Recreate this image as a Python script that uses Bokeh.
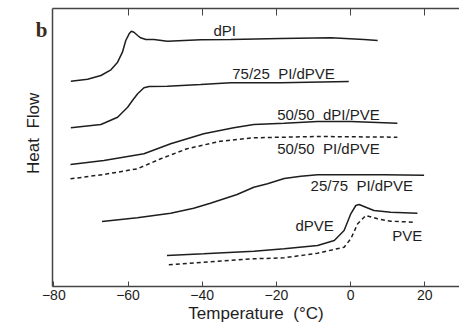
from bokeh.plotting import figure
from bokeh.models import Range1d, LinearAxis, FixedTicker, ColumnDataSource
from bokeh.embed import file_html
from bokeh.resources import INLINE
from bokeh.core.properties import value

# Temperature (°C) / heat flow (arbitrary, offset) traces
dpi_t = [-75.4, -70.9, -67.3, -64.6, -62.8, -61.5, -60.6, -59.7, -59.1, -58.4, -57.4, -56.6, -55.2, -53.0, -49.4, -44.9, -40.4, -32.3, -18.8, -5.3, 3.6, 7.3]
dpi_h = [205.3, 207.3, 211, 216.7, 224.3, 234.3, 246, 252.7, 255.3, 254.3, 251, 248.7, 247, 247, 245.3, 246, 246.7, 247, 248, 248.7, 247, 246]

b75_t = [-75.4, -67.3, -62.8, -60.1, -58.8, -57.4, -55.7, -54.3, -49.4, -40.4, -32.3, -18.8, -0.5]
b75_h = [158.7, 162, 169.3, 179.3, 186, 192.7, 198.7, 200, 200.3, 202, 203.7, 203.7, 205]

d50_t = [-75.5, -66.5, -55.7, -48.5, -39.6, -31.5, -26.1, -17.9, -8.9, 0.0, 12.6]
d50_h = [122, 126, 132.7, 142.7, 152.7, 158.7, 162, 163.3, 165, 165, 163.3]

p50_t = [-75.5, -66.5, -57.5, -51.2, -44.1, -35.1, -26.1, -8.9, 12.6]
p50_h = [107.7, 112, 117.7, 127.7, 137.7, 145.3, 148.7, 150, 149.3]

b25_t = [-67.0, -57.5, -48.5, -42.3, -37.8, -30.6, -26.1, -22.4, -17.9, -13.4, -8.9, 0.0, 9.0, 19.8]
b25_h = [65, 68.7, 73.3, 78.3, 83.3, 92, 99.3, 102.7, 108, 110.3, 111.7, 111.7, 111.7, 111.3]

dpve_t = [-49.5, -39.6, -26.1, -17.9, -8.9, -4.4, -1.75, 0.05, 1.4, 2.3, 4.1, 6.3, 10.8, 18.0]
dpve_h = [31, 32.7, 35.3, 37.7, 41, 46, 56, 72.7, 81, 82, 79.3, 76, 74.3, 73.3]

pve_t = [-49.0, -39.6, -26.1, -17.9, -8.9, -1.75, 0.05, 1.9, 4.1, 7.25, 10.8, 17.1]
pve_h = [21.7, 24.3, 27.7, 28.7, 33.3, 39.3, 47.7, 62.7, 71, 67.7, 65.3, 64.3]

SP = "\u00a0\u00a0"
label_text = ["dPI", "75/25" + SP + "PI/dPVE", "50/50" + SP + "dPI/PVE", "50/50" + SP + "PI/dPVE",
              "25/75" + SP + "PI/dPVE", "dPVE", "PVE"]
label_t = [-36.95, -31.9, -19.8, -19.8, -10.8, -14.85, 11.2]
label_h = [256, 213.5, 172.2, 138.5, 100.7, 60.7, 50.7]

x_ticks = [-80, -60, -40, -20, 0, 20]
panel_letter = "b"
panel_letter_h = 257

FONT = "Liberation Sans"
INK = "#1e1e1e"

p = figure(width=459, height=327, output_backend="svg", toolbar_location=None,
           x_range=Range1d(-80.35, 29.35), y_range=Range1d(0, 278),
           x_axis_location=None, y_axis_location=None,
           min_border_left=52, min_border_right=0, min_border_top=8, min_border_bottom=41)
p.grid.visible = False
p.outline_line_color = None
p.background_fill_color = "white"
p.border_fill_color = "white"

solid = [(dpi_t, dpi_h), (b75_t, b75_h), (d50_t, d50_h), (b25_t, b25_h), (dpve_t, dpve_h)]
for t, h in solid:
    p.line(t, h, line_color=INK, line_width=1.5)
for t, h in [(p50_t, p50_h), (pve_t, pve_h)]:
    p.line(t, h, line_color=INK, line_width=1.5, line_dash="4 3")

src = ColumnDataSource(dict(x=label_t, y=label_h, text=label_text))
p.text(x="x", y="y", text="text", source=src, text_font=value(FONT), text_font_size="15px",
       text_align="left", text_baseline="middle", text_color=INK)

axis_color = "#444444"

bottom = LinearAxis(ticker=FixedTicker(ticks=x_ticks), axis_label="Temperature" + SP + "(°C)")
bottom.major_tick_in = 5
bottom.major_tick_out = 0
bottom.minor_tick_line_color = None
bottom.axis_line_color = axis_color
bottom.major_tick_line_color = axis_color
bottom.axis_line_width = 1.5
bottom.major_label_text_font = FONT
bottom.major_label_text_font_size = "14px"
bottom.major_label_text_color = INK
bottom.major_label_standoff = 3
bottom.axis_label_text_font = FONT
bottom.axis_label_text_font_size = "17px"
bottom.axis_label_text_font_style = "normal"
bottom.axis_label_text_color = INK
bottom.axis_label_standoff = 1
p.add_layout(bottom, "below")

top = LinearAxis(ticker=FixedTicker(ticks=x_ticks[1:]))
top.major_tick_in = 7
top.major_tick_out = 0
top.minor_tick_line_color = None
top.axis_line_color = axis_color
top.major_tick_line_color = axis_color
top.axis_line_width = 1.5
top.major_label_overrides = {t: "" for t in x_ticks[1:]}
top.major_label_standoff = 0
p.add_layout(top, "above")

# leading no-break spaces lift the centred title to where the reference shows it
left = LinearAxis(ticker=FixedTicker(ticks=[]), axis_label="\u00a0" * 6 + "Heat" + SP + "Flow")
left.major_tick_line_color = None
left.minor_tick_line_color = None
left.axis_line_color = axis_color
left.axis_line_width = 1.5
left.axis_label_text_font = FONT
left.axis_label_text_font_size = "17px"
left.axis_label_text_font_style = "normal"
left.axis_label_text_color = INK
left.axis_label_standoff = 10
p.add_layout(left, "left")

# panel letter "b": the single tick label of an otherwise invisible outer left axis
letter = LinearAxis(ticker=FixedTicker(ticks=[panel_letter_h]),
                    major_label_overrides={panel_letter_h: panel_letter})
letter.axis_line_color = None
letter.major_tick_line_color = None
letter.minor_tick_line_color = None
letter.major_tick_in = 0
letter.major_tick_out = 0
letter.major_label_orientation = "horizontal"
letter.major_label_standoff = -27
letter.major_label_text_font = "Liberation Serif"
letter.major_label_text_font_style = "bold"
letter.major_label_text_font_size = "21px"
letter.major_label_text_color = "#3a2c1c"
p.add_layout(letter, "left")

open("out.html", "w").write(file_html(p, INLINE))
